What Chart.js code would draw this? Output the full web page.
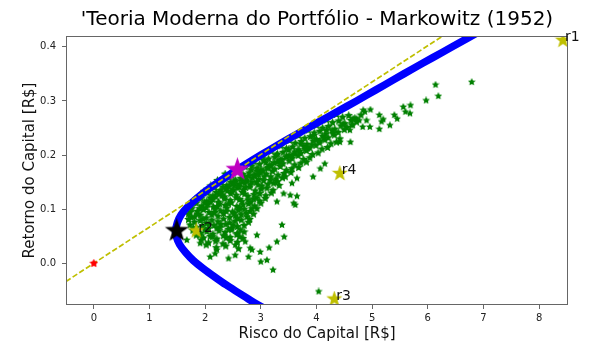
<!DOCTYPE html>
<html>
<head>
<meta charset="utf-8">
<script src="https://cdn.jsdelivr.net/npm/chart.js@4.4.1/dist/chart.umd.min.js"></script>
<style>
  html, body { margin: 0; padding: 0; background: #fff; }
  #wrap { width: 606px; height: 354px; }
</style>
</head>
<body>
<div id="wrap"><canvas id="markowitz-chart" width="606" height="354"></canvas></div>
<script>
// ticks
const xTicks = [0, 1, 2, 3, 4, 5, 6, 7, 8];
const yTicks = [0.0, 0.1, 0.2, 0.3, 0.4];

// fronteira eficiente (risco, retorno)
const frontRisk = [3.09, 2.84, 2.61, 2.38, 2.17, 1.97, 1.79, 1.65, 1.54, 1.48, 1.47, 1.50, 1.57, 1.69, 1.85, 2.03, 2.24, 2.45, 2.68, 3.00, 3.33, 3.67, 4.02, 4.37, 4.72, 5.06, 5.40, 5.74, 6.09, 6.44, 6.96];
const frontRet  = [-0.085, -0.070, -0.055, -0.040, -0.025, -0.010, 0.005, 0.020, 0.035, 0.050, 0.060, 0.075, 0.090, 0.105, 0.120, 0.135, 0.150, 0.165, 0.180, 0.200, 0.220, 0.240, 0.260, 0.280, 0.300, 0.320, 0.340, 0.360, 0.380, 0.400, 0.430];

// carteiras simuladas [risco, retorno] - nucleo denso
const carteiras = [
  [4.36,0.275],[4.47,0.270],[4.58,0.273],[4.69,0.268],[4.80,0.274],
  [4.18,0.265],[4.29,0.260],[4.40,0.263],[4.51,0.258],[4.62,0.264],[4.72,0.261],
  [4.00,0.255],[4.11,0.250],[4.22,0.253],[4.33,0.248],[4.44,0.254],[4.55,0.251],[4.65,0.256],
  [3.85,0.246],[3.96,0.241],[4.06,0.244],[4.17,0.239],[4.28,0.245],[4.39,0.242],[4.50,0.247],
  [3.68,0.236],[3.79,0.231],[3.89,0.234],[4.00,0.229],[4.11,0.235],[4.21,0.232],[4.32,0.237],[4.42,0.230],
  [3.52,0.227],[3.62,0.222],[3.73,0.225],[3.83,0.220],[3.94,0.226],[4.05,0.223],[4.15,0.228],[4.26,0.221],[4.36,0.224],
  [3.36,0.217],[3.46,0.212],[3.57,0.215],[3.67,0.210],[3.78,0.216],[3.88,0.213],[3.99,0.218],[4.10,0.211],[4.20,0.214],
  [3.19,0.207],[3.30,0.202],[3.40,0.205],[3.51,0.200],[3.61,0.206],[3.72,0.203],[3.82,0.208],[3.93,0.201],[4.03,0.204],
  [3.04,0.198],[3.14,0.193],[3.25,0.196],[3.35,0.191],[3.46,0.197],[3.56,0.194],[3.67,0.199],[3.77,0.192],[3.88,0.195],
  [2.88,0.188],[2.98,0.183],[3.09,0.186],[3.19,0.181],[3.30,0.187],[3.40,0.184],[3.51,0.189],[3.61,0.182],[3.72,0.185],[3.82,0.187],
  [2.72,0.178],[2.83,0.173],[2.93,0.176],[3.04,0.171],[3.14,0.177],[3.25,0.174],[3.35,0.179],[3.46,0.172],[3.56,0.175],[3.68,0.177],
  [2.58,0.169],[2.68,0.164],[2.79,0.167],[2.89,0.162],[3.00,0.168],[3.10,0.165],[3.21,0.170],[3.31,0.163],[3.42,0.166],[3.54,0.168],
  [2.43,0.159],[2.54,0.154],[2.64,0.157],[2.75,0.152],[2.85,0.158],[2.96,0.155],[3.06,0.160],[3.17,0.153],[3.27,0.156],[3.39,0.158],
  [2.29,0.149],[2.39,0.144],[2.50,0.147],[2.60,0.142],[2.71,0.148],[2.81,0.145],[2.92,0.150],[3.02,0.143],[3.13,0.146],[3.23,0.148],[3.33,0.144],
  [2.17,0.140],[2.27,0.135],[2.38,0.138],[2.48,0.133],[2.59,0.139],[2.69,0.136],[2.80,0.141],[2.90,0.134],[3.01,0.137],[3.11,0.139],[3.22,0.135],
  [2.04,0.130],[2.14,0.125],[2.25,0.128],[2.35,0.123],[2.46,0.129],[2.56,0.126],[2.67,0.131],[2.77,0.124],[2.88,0.127],[2.98,0.129],[3.09,0.125],[3.19,0.130],
  [1.93,0.120],[2.03,0.115],[2.14,0.118],[2.24,0.113],[2.35,0.119],[2.45,0.116],[2.56,0.121],[2.66,0.114],[2.77,0.117],[2.87,0.119],[2.98,0.115],[3.08,0.120],
  [1.84,0.111],[1.94,0.106],[2.05,0.109],[2.15,0.104],[2.26,0.110],[2.36,0.107],[2.47,0.112],[2.57,0.105],[2.68,0.108],[2.78,0.110],[2.89,0.106],[3.00,0.111],
  [1.76,0.101],[1.86,0.096],[1.97,0.099],[2.07,0.094],[2.18,0.100],[2.28,0.097],[2.39,0.102],[2.49,0.095],[2.60,0.098],[2.70,0.100],[2.81,0.096],[2.93,0.101],
  [1.70,0.091],[1.81,0.086],[1.91,0.089],[2.02,0.084],[2.12,0.090],[2.23,0.087],[2.33,0.092],[2.44,0.085],[2.54,0.088],[2.65,0.090],[2.75,0.086],[2.87,0.091],
  [1.70,0.081],[1.81,0.076],[1.91,0.079],[2.02,0.074],[2.12,0.080],[2.23,0.077],[2.33,0.082],[2.44,0.075],[2.54,0.078],[2.65,0.080],[2.78,0.076],
  [1.73,0.071],[1.84,0.066],[1.95,0.069],[2.06,0.064],[2.16,0.070],[2.27,0.067],[2.37,0.072],[2.48,0.065],[2.58,0.068],[2.70,0.070],
  [1.78,0.061],[1.92,0.056],[2.03,0.059],[2.14,0.054],[2.25,0.060],[2.36,0.057],[2.47,0.062],[2.58,0.055],[2.70,0.058],
  [1.84,0.052],[1.97,0.047],[2.09,0.050],[2.21,0.045],[2.33,0.051],[2.45,0.048],[2.57,0.053],[2.68,0.046],
  [1.93,0.043],[2.06,0.038],[2.19,0.041],[2.32,0.036],[2.45,0.042],[2.58,0.039],
  [2.02,0.034],[2.20,0.029],[2.37,0.032],[2.60,0.027],
  // meio-passo no nucleo denso
  [2.36,0.165],[2.48,0.162],[2.62,0.172],[2.84,0.180],[3.05,0.190],[3.28,0.200],[3.50,0.210],[3.72,0.220],[3.95,0.236],[4.18,0.246],
  [2.22,0.153],[2.46,0.150],[2.70,0.160],[2.93,0.170],[3.16,0.181],[3.38,0.192],[3.60,0.202],[3.84,0.213],[4.06,0.226],[4.30,0.240],
  [2.10,0.143],[2.32,0.141],[2.55,0.151],[2.78,0.161],[3.00,0.173],[3.24,0.186],[3.46,0.196],[3.70,0.207],[3.92,0.219],[4.14,0.232],
  [1.98,0.133],[2.20,0.131],[2.43,0.142],[2.66,0.152],[2.88,0.163],[3.11,0.176],[3.34,0.187],[3.56,0.198],[3.80,0.211],
  [1.88,0.123],[2.09,0.121],[2.30,0.132],[2.52,0.144],[2.74,0.154],[2.96,0.164],[3.18,0.160],[3.30,0.151],[3.44,0.160],
  [1.79,0.113],[1.99,0.112],[2.19,0.123],[2.40,0.134],[2.62,0.146],[2.84,0.150],[3.05,0.153],[2.71,0.128],[2.93,0.121],
  [1.74,0.104],[1.90,0.101],[2.10,0.113],[2.30,0.125],[2.51,0.136],[2.72,0.140],[2.95,0.145],[2.62,0.118],[2.82,0.113],
  [1.73,0.094],[1.86,0.091],[2.02,0.103],[2.22,0.105],[2.42,0.110],[2.62,0.103],[2.84,0.101],[2.52,0.093],[2.74,0.093],
  [1.75,0.085],[1.96,0.082],[2.17,0.094],[2.38,0.096],[2.58,0.083],[2.80,0.081],[2.07,0.073],[2.28,0.072],[2.50,0.071],
  [1.79,0.064],[2.00,0.062],[2.21,0.065],[2.42,0.063],[2.63,0.062],[1.90,0.052],[2.13,0.049],[2.38,0.047],[2.62,0.049]
];

// carteiras isoladas (fora do nucleo)
const isoladas = [
  [3.62,0.108],[3.38,0.071],[3.42,0.049],[3.29,0.040],[3.15,0.029],[3.11,0.006],[3.00,0.003],[3.22,-0.012],
  [4.04,-0.052],[2.78,0.012],[2.42,0.009],[2.09,0.012],[2.21,0.025],[2.54,0.015],[2.84,0.025],[2.99,0.021],
  [2.72,0.040],[2.93,0.052],[1.91,0.037],[1.67,0.043],[2.18,0.018],[2.81,0.028],[2.54,0.034],
  [3.56,0.148],[3.65,0.157],[3.53,0.126],[3.65,0.124],[3.94,0.160],[4.15,0.184],[3.29,0.114],[4.07,0.175],[3.59,0.111],[3.41,0.129],
  [6.79,0.335],[6.14,0.330],[6.19,0.309],[5.97,0.301],[5.69,0.292],[5.56,0.289],[5.60,0.280],[5.68,0.277],
  [5.45,0.267],[5.40,0.274],[5.32,0.255],[5.20,0.266],[5.13,0.248],[5.13,0.274],[4.97,0.284],[4.87,0.280],
  [4.96,0.252],[4.83,0.252],[4.90,0.264],[4.77,0.264],[4.66,0.267],[4.63,0.255],[4.61,0.224],[4.42,0.224],
  [4.72,0.267],[4.84,0.283],[5.17,0.262],[4.48,0.258],[4.60,0.246]
];

// ativos individuais
const ativosNomes = ['r1', 'r2', 'r3', 'r4'];
const ativosRisk  = [8.43, 1.84, 4.32, 4.42];
const ativosRet   = [0.412, 0.060, -0.066, 0.166];

// carteira de minima variancia, maximo sharpe, ativo livre de risco
const minVarRisk = [1.49], minVarRet = [0.060];
const sharpeRisk = [2.58], sharpeRet = [0.173];
const livreRisk  = [0.0],  livreRet  = [0.0];

// linha do mercado de capitais
const cmlRisk = [-0.5, 8.5];
const cmlRet  = [-0.0335, 0.5695];

const titulo = "'Teoria Moderna do Portfólio - Markowitz (1952)";

function xy(xs, ys) {
    return xs.map((v, i) => ({x: v, y: ys[i]}));
}

// estrela cheia de 5 pontas (o 'star' do Chart.js e so linhas)
function estrela(size, color, ratio) {
    const c = document.createElement('canvas');
    c.width = size; c.height = size;
    const g = c.getContext('2d');
    const R = size / 2, r = R * (ratio || 0.4);
    g.beginPath();
    for (let i = 0; i < 10; i++) {
        const a = -Math.PI / 2 + i * Math.PI / 5;
        const rad = (i % 2) ? r : R;
        g.lineTo(R + rad * Math.cos(a), R + rad * Math.sin(a));
    }
    g.closePath();
    g.fillStyle = color;
    g.fill();
    return c;
}

const FONT = "'DejaVu Sans', sans-serif";

const extras = {
    id: 'extras',
    afterDatasetsDraw(chart) {
        const {ctx, chartArea: a, scales: {x, y}} = chart;
        ctx.save();
        ctx.strokeStyle = '#666';
        ctx.lineWidth = 1;
        ctx.strokeRect(Math.round(a.left) + 0.5, Math.round(a.top) + 0.5, Math.round(a.width) - 1, Math.round(a.height) - 1);
        ctx.fillStyle = '#111';
        ctx.font = '14px ' + FONT;
        ctx.textBaseline = 'alphabetic';
        ctx.textAlign = 'left';
        ativosNomes.forEach(function (n, i) {
            const px = x.getPixelForValue(ativosRisk[i]);
            const py = y.getPixelForValue(ativosRet[i]);
            ctx.fillText(n, px + 2, py + 1);
        });
        // titulo centrado sobre a area do grafico
        ctx.fillStyle = '#000';
        ctx.font = '20px ' + FONT;
        ctx.textAlign = 'center';
        ctx.textBaseline = 'middle';
        ctx.fillText(titulo, (a.left + a.right) / 2, 20);
        ctx.restore();
    }
};

const ctx = document.getElementById('markowitz-chart').getContext('2d');
var chart = new Chart(ctx, {
    type: 'scatter',
    data: {
        datasets: [
            {
                label: 'Maximo Sharpe',
                data: xy(sharpeRisk, sharpeRet),
                pointStyle: estrela(25, '#bf00bf'),
                order: 0, clip: 0,
            },
            {
                label: 'Minima variancia',
                data: xy(minVarRisk, minVarRet),
                pointStyle: estrela(25, '#000000'),
                order: 1, clip: 0,
            },
            {
                label: 'Ativos',
                data: xy(ativosRisk, ativosRet),
                pointStyle: estrela(17, '#bfbf00'),
                order: 2, clip: 0,
            },
            {
                label: 'Livre de risco',
                data: xy(livreRisk, livreRet),
                pointStyle: estrela(9, '#ff0000', 0.55),
                order: 3, clip: 0,
            },
            {
                label: 'CML',
                data: xy(cmlRisk, cmlRet),
                showLine: true,
                borderColor: '#bfbf00',
                borderWidth: 1.7,
                borderDash: [5.5, 2.4],
                pointRadius: 0,
                order: 4, clip: 0,
            },
            {
                label: 'Fronteira',
                data: xy(frontRisk, frontRet),
                showLine: true,
                borderColor: '#0000ff',
                borderWidth: 7.5,
                tension: 0.3,
                pointRadius: 0,
                order: 5, clip: 0,
            },
            {
                label: 'Carteiras',
                data: carteiras.map(p => ({x: p[0], y: p[1]})),
                pointStyle: estrela(9, '#008000', 0.5),
                order: 6, clip: 0,
            },
            {
                label: 'Carteiras isoladas',
                data: isoladas.map(p => ({x: p[0], y: p[1]})),
                pointStyle: estrela(8, '#008000', 0.5),
                order: 7, clip: 0,
            },
        ],
    },
    plugins: [extras],
    options: {
        responsive: false,
        animation: false,
        events: [],
        layout: { padding: { left: 0, right: 38, top: 36, bottom: 0 } },
        plugins: {
            legend: { display: false },
            tooltip: { enabled: false },
            title: { display: false },
        },
        scales: {
            x: {
                type: 'linear',
                min: -0.5, max: 8.52,
                afterFit: function (s) { s.height = 49; },
                afterBuildTicks: function (s) { s.ticks = xTicks.map(v => ({value: v})); },
                grid: { drawOnChartArea: false, drawTicks: true, tickLength: 4, tickColor: '#666' },
                border: { display: false },
                ticks: {
                    color: '#222', padding: 3,
                    font: { family: FONT, size: 10 },
                    callback: function (v) { return String(v); }
                },
                title: {
                    display: true, text: 'Risco do Capital [R$]', color: '#111',
                    font: { family: FONT, size: 15 },
                    padding: { top: 0, bottom: 11 },
                },
            },
            y: {
                type: 'linear',
                min: -0.077, max: 0.42,
                afterFit: function (s) { s.width = 66; },
                afterBuildTicks: function (s) { s.ticks = yTicks.map(v => ({value: v})); },
                grid: { drawOnChartArea: false, drawTicks: true, tickLength: 4, tickColor: '#666' },
                border: { display: false },
                ticks: {
                    color: '#222', padding: 6,
                    font: { family: FONT, size: 10 },
                    callback: function (v) { return Number(v).toFixed(1); }
                },
                title: {
                    display: true, text: 'Retorno do Capital [R$]', color: '#111',
                    font: { family: FONT, size: 15 },
                    padding: { top: 21, bottom: 0 },
                },
            },
        },
    },
});
</script>
</body>
</html>
